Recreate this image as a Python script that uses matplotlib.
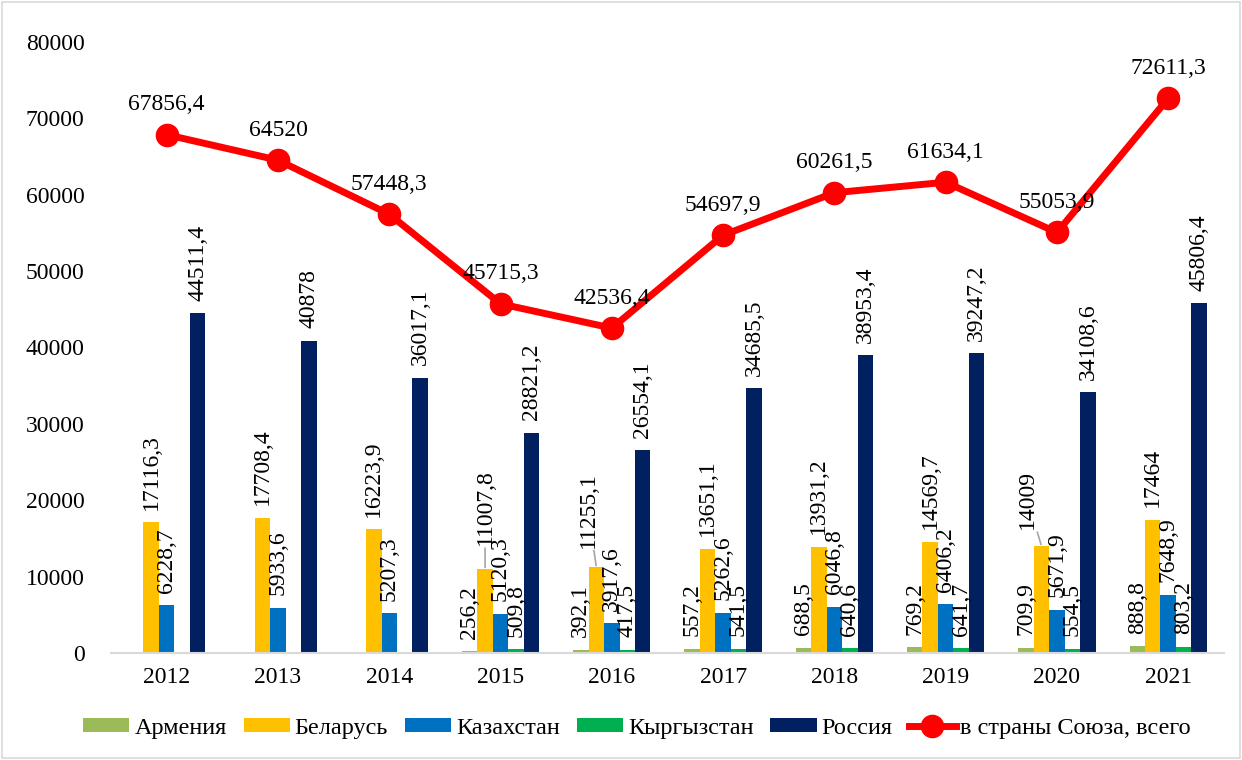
import numpy as np
import matplotlib
matplotlib.use("Agg")
import matplotlib.pyplot as plt
from matplotlib.patches import Rectangle

# data
years = ["2012", "2013", "2014", "2015", "2016", "2017", "2018", "2019", "2020", "2021"]
armenia = [np.nan, np.nan, np.nan, 256.2, 392.1, 557.2, 688.5, 769.2, 709.9, 888.8]
belarus = [17116.3, 17708.4, 16223.9, 11007.8, 11255.1, 13651.1, 13931.2, 14569.7, 14009, 17464]
kazakhstan = [6228.7, 5933.6, 5207.3, 5120.3, 3917.6, 5262.6, 6046.8, 6406.2, 5671.9, 7648.9]
kyrgyzstan = [np.nan, np.nan, np.nan, 509.8, 417.5, 541.5, 640.6, 641.7, 554.5, 803.2]
russia = [44511.4, 40878, 36017.1, 28821.2, 26554.1, 34685.5, 38953.4, 39247.2, 34108.6, 45806.4]
total = [67856.4, 64520, 57448.3, 45715.3, 42536.4, 54697.9, 60261.5, 61634.1, 55053.9, 72611.3]

series = [
    ("Армения", armenia, "#9BBB59"),
    ("Беларусь", belarus, "#FFC000"),
    ("Казахстан", kazakhstan, "#0070C0"),
    ("Кыргызстан", kyrgyzstan, "#00B050"),
    ("Россия", russia, "#002060"),
]


def fmt(v):
    if float(v).is_integer():
        return f"{int(v)}"
    return f"{v:.1f}".replace(".", ",")


plt.rcParams["font.family"] = ["Liberation Serif", "DejaVu Serif"]
plt.rcParams["font.size"] = 17

fig = plt.figure(figsize=(12.42, 7.6), dpi=100)
ax = fig.add_axes([0.0894, 0.1408, 0.896, 0.804])

x = np.arange(len(years))
w = 0.139
handles = []
for i, (name, vals, col) in enumerate(series):
    pos = x + (i - 2) * w
    b = ax.bar(pos, np.nan_to_num(vals), width=w, color=col, label=name, zorder=2)
    handles.append(b)
    for j, v in enumerate(vals):
        if np.isnan(v):
            continue
        dx, dy = 0, 9
        leader = False
        # moved labels with leader lines (Belarus 2015, 2016, 2020)
        if name == "Беларусь" and years[j] in ("2015", "2016", "2020"):
            dx, dy = {"2015": (0, 17), "2016": (-6, 14), "2020": (-10, 12)}[years[j]]
            leader = True
        if leader:
            ax.annotate(fmt(v), xy=(pos[j], v), xytext=(dx, dy), textcoords="offset points",
                        rotation=90, ha="center", va="bottom", zorder=4,
                        arrowprops=dict(arrowstyle="-", color="#A6A6A6", lw=1.2,
                                        shrinkA=0, shrinkB=1))
        else:
            ax.annotate(fmt(v), xy=(pos[j], v), xytext=(dx, dy), textcoords="offset points",
                        rotation=90, ha="center", va="bottom", zorder=4)

ln, = ax.plot(x, total, color="#FF0000", lw=5, marker="o", markersize=16,
              label="в страны Союза, всего", zorder=3)
handles.append(ln)
for j, v in enumerate(total):
    ax.annotate(fmt(v), xy=(x[j], v), xytext=(0, 14), textcoords="offset points",
                ha="center", va="bottom", zorder=5)

ax.set_xlim(-0.5, len(years) - 0.5)
ax.set_ylim(0, 80000)
ax.set_yticks(np.arange(0, 80001, 10000))
ax.set_xticks(x)
ax.set_xticklabels(years)
ax.tick_params(axis="both", length=0)
ax.tick_params(axis="x", pad=10)
ax.tick_params(axis="y", pad=19)
for s in ["top", "right", "left"]:
    ax.spines[s].set_visible(False)
ax.spines["bottom"].set_color("#D9D9D9")
ax.spines["bottom"].set_linewidth(1.5)

fig.legend(handles=handles, loc="center", bbox_to_anchor=(0.513, 0.042), ncol=6,
           frameon=False, handlelength=1.9, handleheight=0.55, handletextpad=0.2,
           columnspacing=0.7, fontsize=17.5)

fig.patches.append(Rectangle((0.002, 0.003), 0.996, 0.994, transform=fig.transFigure,
                             fill=False, edgecolor="#D9D9D9", lw=1.2))

fig.savefig("out.png", dpi=100)
